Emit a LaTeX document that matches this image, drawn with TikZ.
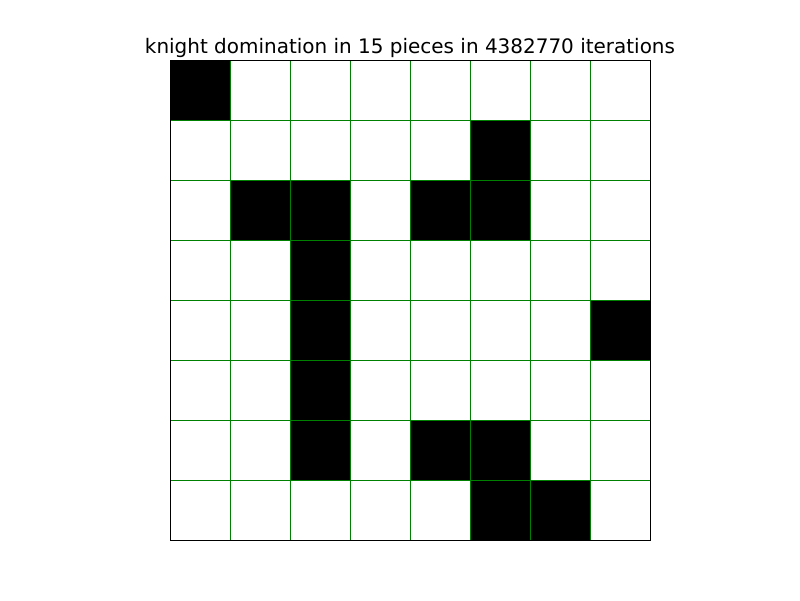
\documentclass[tikz,border=0pt]{standalone}
\usepackage{fontspec}
\setmainfont{DejaVu Sans}
\definecolor{gridgreen}{RGB}{0,128,0}
\begin{document}
\begin{tikzpicture}[x=0.025cm,y=-0.025cm]
\tikzstyle{every node}+=[inner sep=0pt]
\tikzstyle{gridline}=[gridgreen, line width=0.5pt]
\tikzstyle{knight}=[fill=black, draw=gridgreen, line width=0.4pt]
\useasboundingbox (0,0) rectangle (800,600);
% grid lines
\foreach \k in {1,...,7} {
  \draw [gridline] (170+\k*60,60) -- (170+\k*60,540);
  \draw [gridline] (170,60+\k*60) -- (650,60+\k*60);
}
% the 15 knights, row/column from the top left
\foreach \r/\c in {0/0,1/5,2/1,2/2,2/4,2/5,3/2,4/2,4/7,5/2,6/2,6/4,6/5,7/5,7/6}
  \draw [knight] (170+\c*60,60+\r*60) rectangle ++(60,60);
\draw [black, line width=0.6pt] (170,60) rectangle (650,540);
\node (title) [anchor=base, font=\fontsize{14.2}{17}\selectfont] at (410,53) {knight domination in 15 pieces in 4382770 iterations};
\end{tikzpicture}
\end{document}
